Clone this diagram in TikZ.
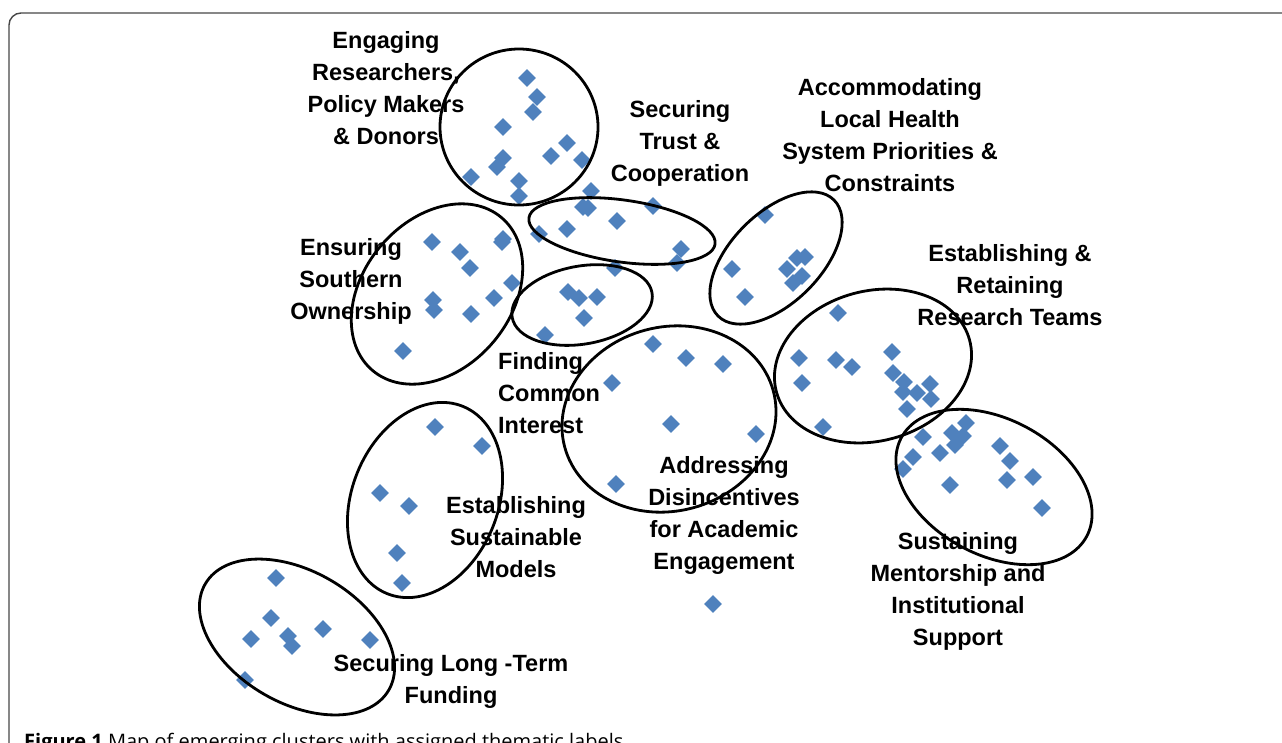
\documentclass[tikz,border=0pt]{standalone}
\usepackage{fontspec}
\setmainfont{Liberation Sans}
\newfontfamily\capfont{Open Sans}
\usetikzlibrary{shapes.geometric}
\definecolor{ptblue}{RGB}{79,129,189}
\definecolor{framegray}{RGB}{70,70,70}

\begin{document}
\begin{tikzpicture}[x=1pt, y=-1pt,
    pt/.style={diamond, fill=ptblue, draw=none, inner sep=0pt, minimum width=18pt, minimum height=18pt},
    ring/.style={draw=black, line width=2.8pt},
    lbl/.style={align=center, font=\fontsize{23.5}{32}\selectfont\bfseries, inner sep=0pt}]
  \useasboundingbox (0,0) rectangle (1282,742);
  % Frame
  \draw[framegray, line width=1.4pt, rounded corners=12pt] (9,13) rectangle (1330,790);

  % Points
  \foreach \x/\y [count=\i] in {527/78, 537/97, 533/112, 503/127, 567/143, 551/156, 582/160, 503/158, 497/167, 471/177, 519/181, 519/196, 591/191}
    \node[pt] (eng\i) at (\x,\y) {};
  \foreach \x/\y [count=\i] in {583/207, 588/208, 617/221, 653/206, 567/229, 539/234, 681/249, 677/263, 615/268}
    \node[pt] (tru\i) at (\x,\y) {};
  \foreach \x/\y [count=\i] in {568/292, 579/298, 597/297, 584/318, 545/335}
    \node[pt] (fin\i) at (\x,\y) {};
  \foreach \x/\y [count=\i] in {432/242, 460/252, 470/268, 503/239, 502/242, 512/283, 494/298, 433/300, 434/310, 471/314, 403/351}
    \node[pt] (ens\i) at (\x,\y) {};
  \foreach \x/\y [count=\i] in {765/215, 732/269, 745/297, 797/258, 805/257, 787/269, 802/276, 793/283}
    \node[pt] (loc\i) at (\x,\y) {};
  \foreach \x/\y [count=\i] in {838/313, 799/358, 836/360, 852/367, 802/383, 892/352, 893/373, 904/382, 903/392, 917/393, 930/384, 931/399, 907/409, 823/427}
    \node[pt] (ret\i) at (\x,\y) {};
  \foreach \x/\y [count=\i] in {966/423, 923/437, 952/433, 963/436, 955/445, 940/453, 913/457, 903/469, 950/485, 1000/446, 1010/461, 1007/480, 1033/477, 1042/508}
    \node[pt] (sus\i) at (\x,\y) {};
  \foreach \x/\y [count=\i] in {653/344, 686/358, 723/364, 612/383, 671/424, 756/434, 616/484, 713/604}
    \node[pt] (add\i) at (\x,\y) {};
  \foreach \x/\y [count=\i] in {435/427, 482/446, 380/493, 409/506, 397/553, 402/583}
    \node[pt] (mod\i) at (\x,\y) {};
  \foreach \x/\y [count=\i] in {276/578, 271/618, 251/639, 288/636, 292/646, 323/629, 370/640, 245/680}
    \node[pt] (fun\i) at (\x,\y) {};

  % Clusters
  \coordinate (cEng) at (519,127);
  \coordinate (cTru) at (622,231);
  \coordinate (cFin) at (582,305);
  \coordinate (cEns) at (437,294);
  \coordinate (cLoc) at (776,258);
  \coordinate (cRet) at (873,366);
  \coordinate (cSus) at (994,487);
  \coordinate (cAdd) at (669,419);
  \coordinate (cMod) at (425,500);
  \coordinate (cFun) at (297,637);
  \draw[ring] (cEng) ellipse [x radius=79, y radius=78];
  \draw[ring, rotate around={-8:(cTru)}] (cTru) ellipse [x radius=94, y radius=31];
  \draw[ring, rotate around={10:(cFin)}] (cFin) ellipse [x radius=71, y radius=39];
  \draw[ring, rotate around={50:(cEns)}] (cEns) ellipse [x radius=100, y radius=74];
  \draw[ring, rotate around={45:(cLoc)}] (cLoc) ellipse [x radius=82, y radius=45];
  \draw[ring, rotate around={15:(cRet)}] (cRet) ellipse [x radius=100, y radius=75];
  \draw[ring, rotate around={-28:(cSus)}] (cSus) ellipse [x radius=105, y radius=68];
  \draw[ring, rotate around={15:(cAdd)}] (cAdd) ellipse [x radius=108, y radius=92];
  \draw[ring, rotate around={68:(cMod)}] (cMod) ellipse [x radius=101, y radius=73];
  \draw[ring, rotate around={-30:(cFun)}] (cFun) ellipse [x radius=106, y radius=66];

  % Labels
  \node[lbl] (lEng) at (386,88) {Engaging\\Researchers,\\Policy Makers\\\& Donors};
  \node[lbl] (lTru) at (680,143) {Securing\\Trust \&\\Cooperation};
  \node[lbl] (lLoc) at (890,135) {Accommodating\\Local Health\\System Priorities \&\\Constraints};
  \node[lbl] (lEns) at (351,281) {Ensuring\\Southern\\Ownership};
  \node[lbl] (lRet) at (1010,285) {Establishing \&\\Retaining\\Research Teams};
  \node[lbl, align=left, anchor=west] (lFin) at (498,393) {Finding\\Common\\Interest};
  \node[lbl] (lAdd) at (724,515) {Addressing\\Disincentives\\for Academic\\Engagement};
  \node[lbl] (lMod) at (516,537) {Establishing\\Sustainable\\Models};
  \node[lbl] (lFun) at (451,681) {Securing Long -Term\\Funding};
  \node[lbl] (lSus) at (958,591) {Sustaining\\Mentorship and\\Institutional\\Support};

  % Caption
  \node[anchor=base west, inner sep=0pt, font=\capfont\fontsize{20}{24}\selectfont] (cap) at (24,748) {\textbf{Figure 1} Map of emerging clusters with assigned thematic labels};
\end{tikzpicture}
\end{document}
